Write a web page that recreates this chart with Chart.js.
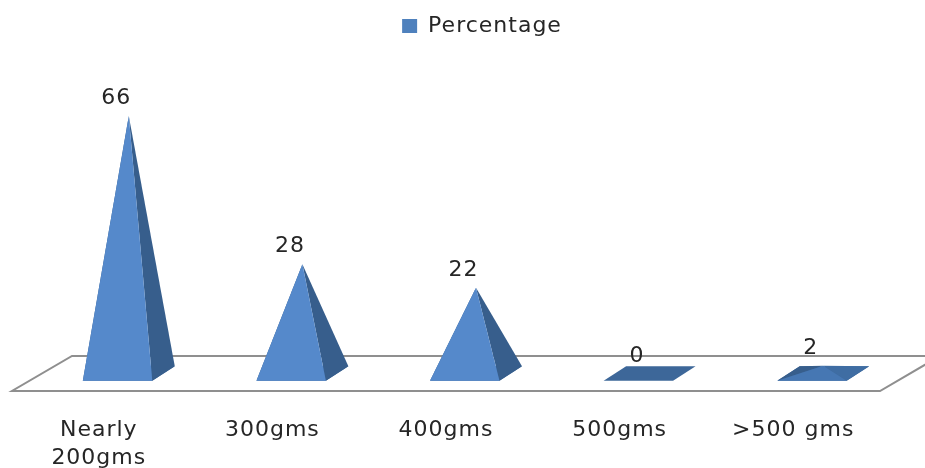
<!DOCTYPE html>
<html>
<head>
<meta charset="utf-8">
<title>Percentage</title>
<script src="https://cdn.jsdelivr.net/npm/chart.js@4"></script>
<style>
  html, body { margin: 0; padding: 0; background: #fff; overflow: hidden; }
  canvas { display: block; }
</style>
</head>
<body>
<canvas id="chart" width="925" height="468"></canvas>
<script>
const categories = [["Nearly", "200gms"], "300gms", "400gms", "500gms", ">500 gms"];
const percentages = [66, 28, 22, 0, 2];
const seriesName = "Percentage";

const FONT = '"DejaVu Sans", sans-serif';
const TEXT = "#262626";
const FRONT = "#5589cb";
const SIDE = "#375e8c";
const BASE = "#3d6799";
// nearly flat pyramids catch less light on the front
const FRONT_FLAT = "#4677b3";
const SIDE_FLAT = "#3f6da3";

// oblique offset of the 3D depth
const barDepth = { x: 22.5, y: 14.5 };
const floorDepth = { x: 30, y: 17.5 };

function tri(ctx, a, b, c, fill) {
  ctx.fillStyle = fill;
  ctx.beginPath();
  ctx.moveTo(a[0], a[1]);
  ctx.lineTo(b[0], b[1]);
  ctx.lineTo(c[0], c[1]);
  ctx.closePath();
  ctx.fill();
}

// bar controller that paints each element as a pyramid on a slanted base
class PyramidController extends Chart.BarController {
  draw() {
    const ctx = this.chart.ctx;
    const zero = this._cachedMeta.vScale.getPixelForValue(0);
    const dx = barDepth.x / 2, dy = barDepth.y / 2;
    this._cachedMeta.data.forEach((bar) => {
      const hw = bar.width / 2;
      const fl = [bar.x - hw - dx, zero + dy], fr = [bar.x + hw - dx, zero + dy];
      const bl = [bar.x - hw + dx, zero - dy], br = [bar.x + hw + dx, zero - dy];
      const top = [bar.x, bar.y];
      const flat = zero - bar.y < dy * 2;

      ctx.save();
      ctx.fillStyle = BASE;
      ctx.beginPath();
      ctx.moveTo(fl[0], fl[1]);
      ctx.lineTo(fr[0], fr[1]);
      ctx.lineTo(br[0], br[1]);
      ctx.lineTo(bl[0], bl[1]);
      ctx.closePath();
      ctx.fill();

      if (bar.y < zero) {
        tri(ctx, fl, bl, top, SIDE);
        tri(ctx, fr, br, top, flat ? SIDE_FLAT : SIDE);
        tri(ctx, fl, fr, top, flat ? FRONT_FLAT : FRONT);
      }
      ctx.restore();
    });
  }
}
PyramidController.id = "pyramid";
PyramidController.defaults = Chart.BarController.defaults;
PyramidController.overrides = Chart.BarController.overrides;
Chart.register(PyramidController);

const floorPlugin = {
  id: "floor",
  beforeDatasetsDraw(chart) {
    const { ctx, chartArea: a } = chart;
    const dx = floorDepth.x, dy = floorDepth.y;
    ctx.save();
    ctx.strokeStyle = "#8f8f8f";
    ctx.lineWidth = 2;
    ctx.lineJoin = "miter";
    ctx.beginPath();
    ctx.moveTo(a.left - dx, a.bottom + dy);
    ctx.lineTo(a.right - dx, a.bottom + dy);
    ctx.lineTo(a.right + dx, a.bottom - dy);
    ctx.lineTo(a.left + dx, a.bottom - dy);
    ctx.closePath();
    ctx.stroke();
    ctx.restore();
  }
};

const valueLabels = {
  id: "valueLabels",
  afterDatasetsDraw(chart) {
    const { ctx } = chart;
    const meta = chart.getDatasetMeta(0);
    ctx.save();
    ctx.font = "22px " + FONT;
    ctx.fillStyle = TEXT;
    ctx.textAlign = "center";
    ctx.textBaseline = "middle";
    meta.data.forEach((bar, i) => {
      ctx.fillText(String(percentages[i]), bar.x - 12.5, bar.y - 17.5);
    });
    ctx.restore();
  }
};

const textTracking = {
  id: "textTracking",
  // wider text tracking, has to be set again after the canvas is sized
  beforeUpdate(chart) { chart.ctx.letterSpacing = "1px"; },
  // legend sits a little right of the plot centre
  afterLayout(chart) {
    chart.legend.left += 6;
    chart.legend.right += 6;
  }
};

new Chart(document.getElementById("chart"), {
  type: "pyramid",
  data: {
    labels: categories,
    datasets: [{
      label: seriesName,
      data: percentages,
      backgroundColor: "#4f81bd",
      borderWidth: 0,
      barPercentage: 0.4,
      categoryPercentage: 1,
      clip: false
    }]
  },
  options: {
    responsive: false,
    animation: false,
    layout: { padding: { left: 42, right: 15, top: 0, bottom: 0 } },
    plugins: {
      tooltip: { enabled: false },
      legend: {
        position: "top",
        labels: {
          boxWidth: 15,
          boxHeight: 14,
          padding: 15,
          color: TEXT,
          font: { family: FONT, size: 22 }
        }
      }
    },
    scales: {
      x: {
        type: "category",
        offset: true,
        border: { display: false },
        grid: { display: false },
        ticks: {
          autoSkip: false,
          maxRotation: 0,
          labelOffset: -30,
          padding: 35,
          color: TEXT,
          font: { family: FONT, size: 22, lineHeight: 1.27 }
        },
        afterFit(scale) { scale.height = 94.5; }
      },
      y: {
        type: "linear",
        display: false,
        min: 0,
        max: 83.7
      }
    }
  },
  plugins: [floorPlugin, valueLabels, textTracking]
});
</script>
</body>
</html>
